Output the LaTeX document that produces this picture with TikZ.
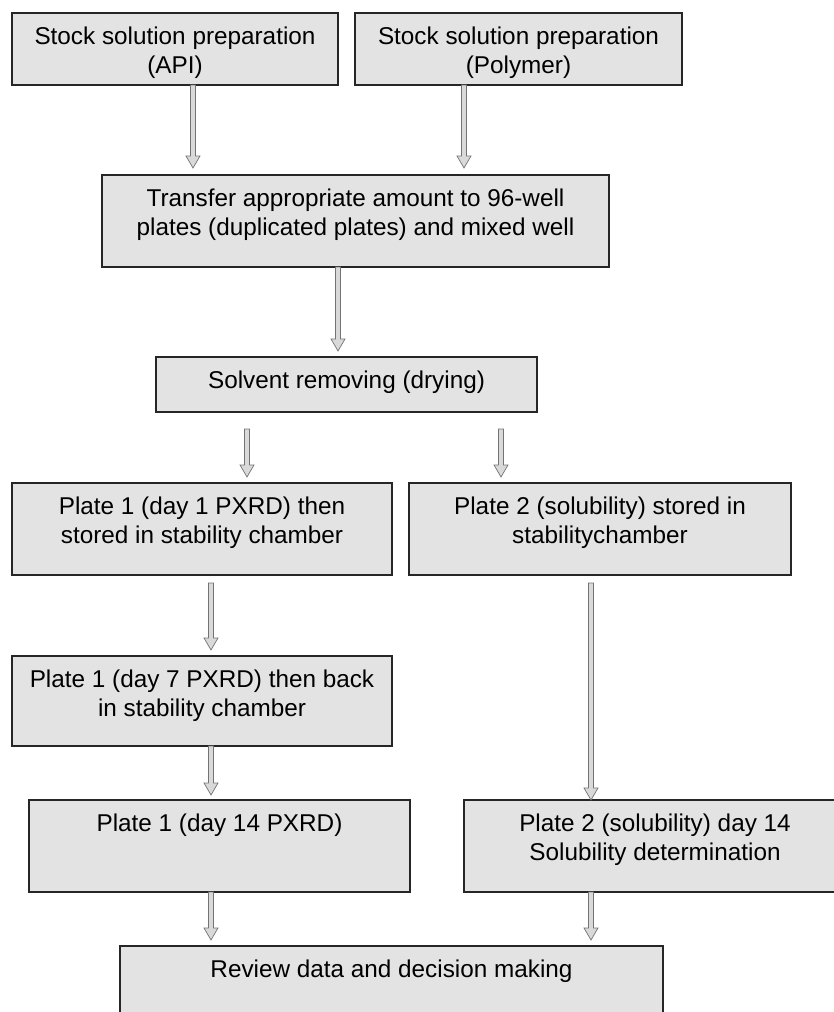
\documentclass[tikz,border=0pt]{standalone}
\usepackage{fontspec}
\setmainfont{Liberation Sans}
\usetikzlibrary{calc}
\newcommand\tstrut{\rule{0pt}{17.5pt}}
\newcommand\bx[3]{\parbox[c][#2][t]{#1}{\centering\vspace*{14pt}\tstrut #3\par}}
\tikzset{
  box/.style={draw=black!85, line width=1.2pt, fill=black!11, inner sep=0pt,
    outer sep=0pt, anchor=north west, font=\fontsize{24.3}{28.5}\selectfont},
  flowarrow/.style={draw=black!55, fill=black!15, line width=0.7pt,
    to path={let \p1=(\tikztostart), \p2=(\tikztotarget) in
      (\x1-2.5pt,\y1) -- (\x1+2.5pt,\y1) -- (\x1+2.5pt,\y2+12pt) -- (\x1+7pt,\y2+12pt)
      -- (\x1,\y2) -- (\x1-7pt,\y2+12pt) -- (\x1-2.5pt,\y2+12pt) -- cycle}}
}
\begin{document}
\begin{tikzpicture}[x=1pt,y=-1pt]
\useasboundingbox (0,0) rectangle (834,1012);
\node[box] (b1) at (12,13) {\bx{326pt}{72pt}{Stock solution preparation\\(API)}};
\node[box] (b2) at (355,13) {\bx{327pt}{72pt}{Stock solution preparation\\(Polymer)}};
\node[box] (b3) at (102,175) {\bx{507pt}{92pt}{Transfer appropriate amount to 96-well\\plates (duplicated plates) and mixed well}};
\node[box] (b4) at (156,357) {\bx{381pt}{55pt}{Solvent removing (drying)}};
\node[box] (b5) at (12,483) {\bx{380pt}{92pt}{Plate 1 (day 1 PXRD) then\\stored in stability chamber}};
\node[box] (b6) at (409,483) {\bx{382pt}{92pt}{Plate 2 (solubility) stored in\\stabilitychamber}};
\node[box] (b7) at (12,656) {\bx{380pt}{90pt}{Plate 1 (day 7 PXRD) then back\\in stability chamber}};
\node[box] (b8) at (29,800) {\bx{381pt}{92pt}{Plate 1 (day 14 PXRD)}};
\node[box] (b9) at (464,800) {\bx{382pt}{92pt}{Plate 2 (solubility) day 14\\Solubility determination}};
\node[box] (b10) at (120,946) {\bx{543pt}{90pt}{Review data and decision making}};

\draw[flowarrow] ([xshift=18pt]b1.south) to ([yshift=7pt]b3.north);
\draw[flowarrow] ([xshift=-54.5pt]b2.south) to ([yshift=7pt]b3.north);
\draw[flowarrow] ([xshift=-17.5pt]b3.south) to ([yshift=6pt]b4.north);
\draw[flowarrow] ([xshift=-99.5pt,yshift=-17pt]b4.south) to ([yshift=6pt]b5.north);
\draw[flowarrow] ([xshift=154.5pt,yshift=-17pt]b4.south) to ([yshift=6pt]b6.north);
\draw[flowarrow] ([xshift=9pt,yshift=-8pt]b5.south) to ([yshift=6pt]b7.north);
\draw[flowarrow] ([xshift=-9pt,yshift=-8pt]b6.south) to (b9.north);
\draw[flowarrow] ([xshift=9pt]b7.south) to ([yshift=5pt]b8.north);
\draw[flowarrow] ([xshift=-8.5pt]b8.south) to ([yshift=6pt]b10.north);
\draw[flowarrow] ([xshift=-64pt]b9.south) to ([yshift=6pt]b10.north);
\end{tikzpicture}
\end{document}
